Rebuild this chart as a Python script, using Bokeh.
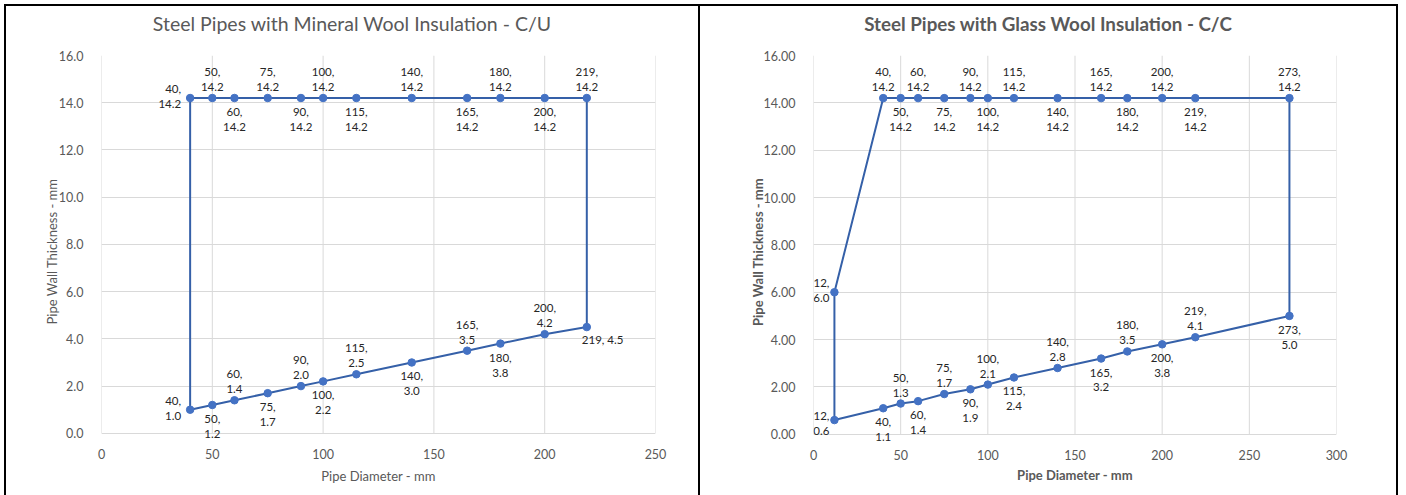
from bokeh.plotting import figure
from bokeh.layouts import row, column
from bokeh.models import NumeralTickFormatter, FixedTicker, ColumnDataSource, Div
from bokeh.core.properties import value
from bokeh.embed import file_html
from bokeh.resources import INLINE

# ---------------- data ----------------
# Chart 1: Steel pipes with mineral wool insulation - C/U
cu_diameter = [40, 50, 60, 75, 90, 100, 115, 140, 165, 180, 200, 219]
cu_upper = [14.2, 14.2, 14.2, 14.2, 14.2, 14.2, 14.2, 14.2, 14.2, 14.2, 14.2, 14.2]
cu_lower = [1.0, 1.2, 1.4, 1.7, 2.0, 2.2, 2.5, 3.0, 3.5, 3.8, 4.2, 4.5]
cu_upper_pos = ["left", "above", "below", "above", "below", "above", "below",
                "above", "below", "above", "below", "above"]
cu_lower_pos = ["left", "below", "above", "below", "above", "below", "above",
                "below", "above", "below", "above", "belowright"]

# Chart 2: Steel pipes with glass wool insulation - C/C
cc_diameter = [12, 40, 50, 60, 75, 90, 100, 115, 140, 165, 180, 200, 219, 273]
cc_upper = [6.0, 14.2, 14.2, 14.2, 14.2, 14.2, 14.2, 14.2, 14.2, 14.2, 14.2, 14.2, 14.2, 14.2]
cc_lower = [0.6, 1.1, 1.3, 1.4, 1.7, 1.9, 2.1, 2.4, 2.8, 3.2, 3.5, 3.8, 4.1, 5.0]
cc_upper_pos = ["lefthigh", "above", "below", "above", "below", "above", "below",
                "above", "below", "above", "below", "above", "below", "above"]
cc_lower_pos = ["leftlow", "below", "above", "below", "above", "below", "above",
                "below", "above", "below", "above", "below", "above", "below"]

x_ticks_1 = [0, 50, 100, 150, 200, 250]
x_ticks_2 = [0, 50, 100, 150, 200, 250, 300]
y_ticks = [0, 2, 4, 6, 8, 10, 12, 14, 16]
y_min, y_max = 0, 16

title_1 = "Steel Pipes with Mineral Wool Insulation - C/U"
title_2 = "Steel Pipes with Glass Wool Insulation - C/C"

# ---------------- style ----------------
FONT = "Lato"
GRAY = "#595959"
GRID = "#d9d9d9"
LINE = "#3560a8"
MARK = "#4472c4"
TITLE_H = 40
H = 489 - TITLE_H
FLOOR_PAD = 0.6   # room below the 0 line so data labels hanging below are not cut

PLACE = {
    "above": dict(text_align="center", text_baseline="bottom", x_offset=0, y_offset=-5),
    "below": dict(text_align="center", text_baseline="top", x_offset=0, y_offset=7),
    "left": dict(text_align="right", text_baseline="middle", x_offset=-9, y_offset=-2),
    "lefthigh": dict(text_align="right", text_baseline="middle", x_offset=-5, y_offset=-2),
    "leftlow": dict(text_align="right", text_baseline="middle", x_offset=-5, y_offset=3),
    "belowright": dict(text_align="left", text_baseline="middle", x_offset=-5, y_offset=12),
}


def make_fig(width, xmax, xticks, yfmt, bold, mb_left, mb_right, mb_bottom,
             ylab_standoff, xlab_standoff):
    style = "bold" if bold else "normal"
    p = figure(width=width, height=H, x_range=(0, xmax), y_range=(y_min - FLOOR_PAD, y_max),
               output_backend="svg", toolbar_location=None,
               min_border_left=mb_left, min_border_right=mb_right,
               min_border_top=49 - TITLE_H, min_border_bottom=mb_bottom)
    p.outline_line_color = None
    p.background_fill_color = "white"
    p.border_fill_color = "white"
    p.xgrid.grid_line_color = None
    p.ygrid.grid_line_color = GRID
    # vertical grid lines only between 0 and 16
    p.segment(x0=xticks, y0=[y_min] * len(xticks), x1=xticks, y1=[y_max] * len(xticks),
              line_color=GRID, line_width=1, level="underlay")
    p.xaxis.ticker = FixedTicker(ticks=xticks)
    p.yaxis.ticker = FixedTicker(ticks=y_ticks)
    p.yaxis.formatter = NumeralTickFormatter(format=yfmt)
    for ax in (p.xaxis[0], p.yaxis[0]):
        ax.major_tick_line_color = None
        ax.minor_tick_line_color = None
        ax.axis_line_color = None
        ax.major_label_text_color = GRAY
        ax.major_label_text_font = FONT
        ax.major_label_text_font_size = "12.5px"
        ax.axis_label_text_color = GRAY
        ax.axis_label_text_font = FONT
        ax.axis_label_text_font_size = "13px"
        ax.axis_label_text_font_style = style
    p.xaxis.axis_label = "Pipe Diameter - mm"
    p.yaxis.axis_label = "Pipe Wall Thickness - mm"
    p.yaxis.major_label_standoff = 12
    p.xaxis.major_label_standoff = -5
    p.xaxis.axis_label_standoff = xlab_standoff
    p.yaxis.axis_label_standoff = ylab_standoff
    return p


def make_title(text, width, bold, size):
    weight = "bold" if bold else "normal"
    html = (f'<div style="width:{width}px;height:{TITLE_H}px;line-height:35px;text-align:center;'
            f'font-family:{FONT};font-size:{size};font-weight:{weight};color:{GRAY};'
            f'white-space:nowrap;">{text}</div>')
    return Div(text=html, width=width, height=TITLE_H, margin=0)


def add_series(p, up_x, up_y, lo_x, lo_y, up_pos, lo_pos):
    path_x = list(up_x) + list(reversed(lo_x)) + [up_x[0]]
    path_y = list(up_y) + list(reversed(lo_y)) + [up_y[0]]
    p.line(path_x, path_y, line_color=LINE, line_width=2)
    p.scatter(list(up_x) + list(lo_x), list(up_y) + list(lo_y), size=7.5,
              fill_color=MARK, line_color=MARK)
    xs = list(up_x) + list(lo_x)
    ys = list(up_y) + list(lo_y)
    pos = list(up_pos) + list(lo_pos)
    for key, opts in PLACE.items():
        idx = [i for i, q in enumerate(pos) if q == key]
        if not idx:
            continue
        if key == "belowright":
            txt = [f"{xs[i]}, {ys[i]:.1f}" for i in idx]
        else:
            txt = [f"{xs[i]},\n{ys[i]:.1f}" for i in idx]
        src = ColumnDataSource(dict(x=[xs[i] for i in idx], y=[ys[i] for i in idx], t=txt))
        p.text(x="x", y="y", text="t", source=src, text_font=value(FONT),
               text_font_size="11.5px", text_color="#262626", text_line_height=1.15, **opts)


p1 = make_fig(692, 250, x_ticks_1, "0.0", False, 95, 43, 48, -4, 6)
add_series(p1, cu_diameter, cu_upper, cu_diameter, cu_lower, cu_upper_pos, cu_lower_pos)

p2 = make_fig(696, 300, x_ticks_2, "0.00", True, 113, 60, 47, -5, 4)
add_series(p2, cc_diameter, cc_upper, cc_diameter, cc_lower, cc_upper_pos, cc_lower_pos)

BORDER = "2.5px solid black"
w1 = column(make_title(title_1, 692, False, "19.5px"), p1, spacing=0,
            styles={"border-left": BORDER, "border-right": BORDER, "border-top": BORDER,
                    "margin-left": "4px", "margin-top": "4px"})
w2 = column(make_title(title_2, 696, True, "18.8px"), p2, spacing=0,
            styles={"border-right": BORDER, "border-top": BORDER, "margin-top": "4px"})
layout = row(w1, w2, spacing=0)
open("out.html", "w").write(file_html(layout, INLINE))
